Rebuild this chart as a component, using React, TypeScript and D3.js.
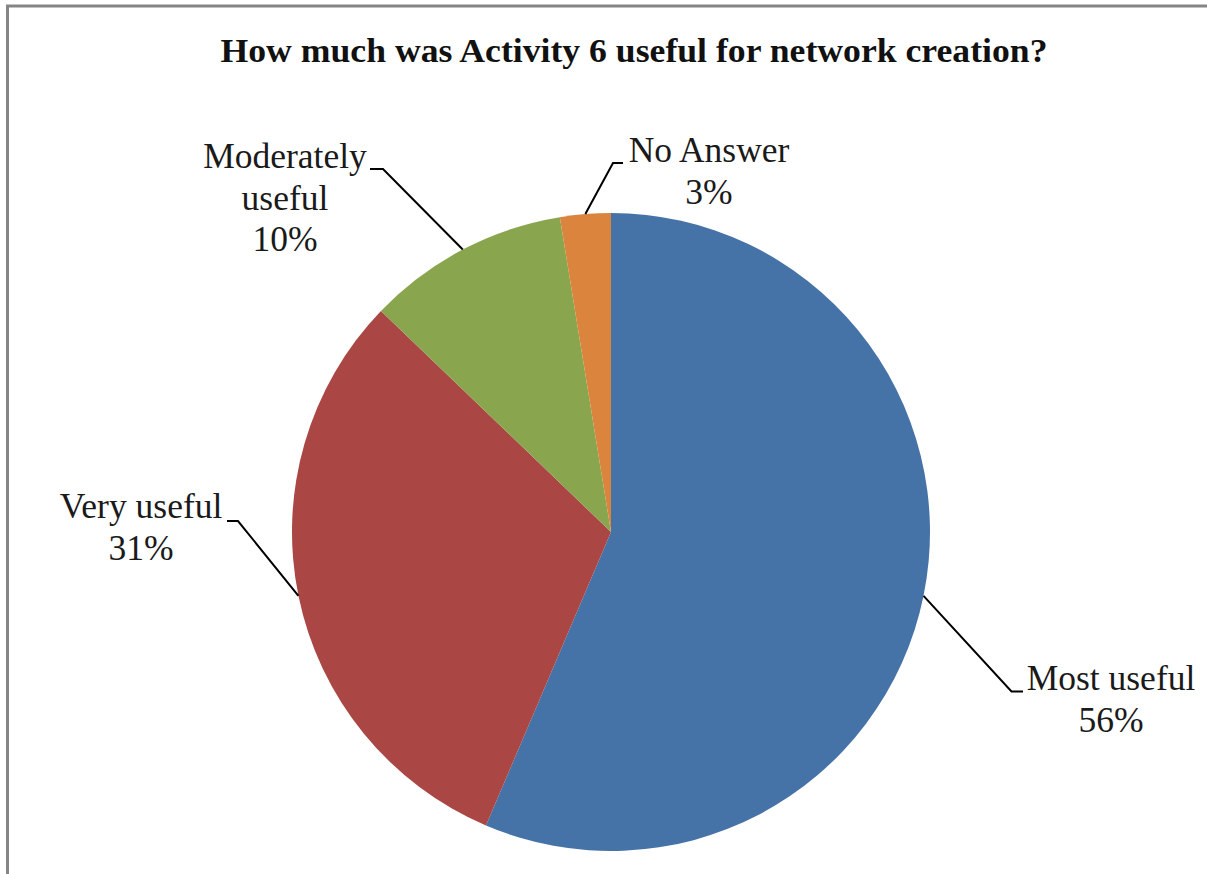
import React from "react";
import * as d3 from "d3";

const title = "How much was Activity 6 useful for network creation?";
const categories = ["Most useful", "Very useful", "Moderately useful", "No Answer"];
const counts = [22, 12, 4, 1];
const percentLabels = ["56%", "31%", "10%", "3%"];
const colors = ["#4572A7", "#AA4643", "#89A54E", "#DB843D"];
const labelLines = [["Most useful"], ["Very useful"], ["Moderately", "useful"], ["No Answer"]];

// label layout: text centre x, first baseline y, leader elbow and horizontal end
const labelLayout = [
  { tx: 1111, ty: 690, ex: 1011.5, ey: 691.5, hx: 1023 },
  { tx: 141, ty: 518, ex: 238, ey: 521, hx: 227 },
  { tx: 285, ty: 168, ex: 383, ey: 169, hx: 370 },
  { tx: 709, ty: 162, ex: 613, ey: 163, hx: 623 },
];

const W = 1207;
const H = 874;
const cx = 611;
const cy = 532;
const R = 319;
const lineH = 41.5;

export default function App() {
  const pie = d3.pie<number>().sort(null).value((d) => d)(counts);
  const arc = d3.arc<d3.PieArcDatum<number>>().innerRadius(0).outerRadius(R);
  const font = "'Liberation Serif', 'Times New Roman', Times, serif";

  return (
    <svg
      width={W}
      height={H}
      style={{ position: "absolute", left: 0, top: 0, display: "block", background: "#fff" }}
    >
      <rect x={7.5} y={6} width={1400} height={1000} fill="#fff" stroke="#858585" strokeWidth={3} />
      <text
        x={634}
        y={62}
        textAnchor="middle"
        fontFamily={font}
        fontWeight="bold"
        fontSize={34}
        textLength={827}
        lengthAdjust="spacingAndGlyphs"
        fill="#111"
      >
        {title}
      </text>
      <g transform={`translate(${cx},${cy})`}>
        {pie.map((p, i) => (
          <path key={categories[i]} d={arc(p) || ""} fill={colors[i]} />
        ))}
      </g>
      {pie.map((p, i) => {
        const mid = (p.startAngle + p.endAngle) / 2;
        const ax = cx + R * Math.sin(mid);
        const ay = cy - R * Math.cos(mid);
        const L = labelLayout[i];
        const lines = [...labelLines[i], percentLabels[i]];
        return (
          <g key={categories[i]}>
            <polyline
              points={`${ax},${ay} ${L.ex},${L.ey} ${L.hx},${L.ey}`}
              fill="none"
              stroke="#000"
              strokeWidth={2}
            />
            <text textAnchor="middle" fontFamily={font} fontSize={35.5} fill="#1a1a1a">
              {lines.map((t, j) => (
                <tspan key={j} x={L.tx} y={L.ty + j * lineH}>
                  {t}
                </tspan>
              ))}
            </text>
          </g>
        );
      })}
    </svg>
  );
}
